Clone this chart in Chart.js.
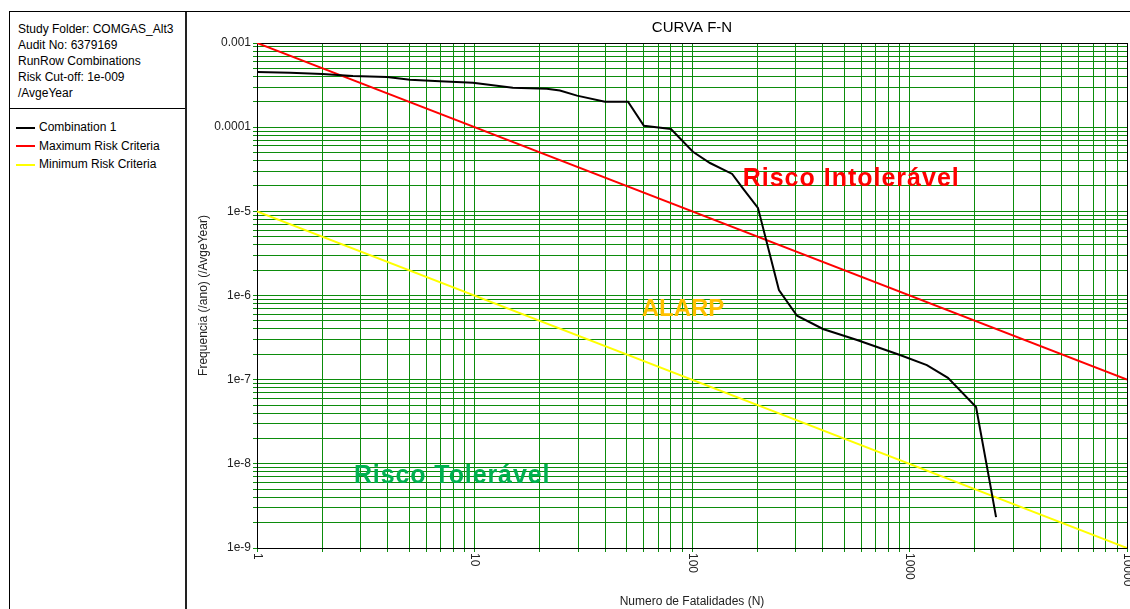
<!DOCTYPE html>
<html>
<head>
<meta charset="utf-8">
<title>CURVA F-N</title>
<script src="https://cdn.jsdelivr.net/npm/chart.js@4.4.1/dist/chart.umd.min.js"></script>
<style>
  html, body { margin: 0; padding: 0; background: #fff; }
  body {
    width: 1130px; height: 609px; position: relative; overflow: hidden;
    font-family: 'Liberation Sans', Arial, sans-serif; font-size: 12px; color: #000;
  }
  .frame-top { position: absolute; left: 9px; top: 11px; width: 1121px; border-top: 1px solid #000; }
  .side {
    position: absolute; left: 9px; top: 12px; width: 175px; height: 597px;
    border-left: 1px solid #000; border-right: 2px solid #222;
  }
  .info {
    height: 87px; padding: 9px 0 0 8px; line-height: 16px;
    border-bottom: 1px solid #000; white-space: nowrap;
  }
  .legend { padding-top: 9px; }
  .lg-row { height: 18.6px; line-height: 18.6px; white-space: nowrap; }
  .lg-line { display: inline-block; width: 19px; height: 2px; margin: 0 4px 0 6px; vertical-align: middle; }
  .plot { position: absolute; left: 190px; top: 12px; width: 940px; height: 597px; }
</style>
</head>
<body>

<div class="frame-top"></div>
<div class="side">
  <div class="info">
    Study Folder: COMGAS_Alt3<br>
    Audit No: 6379169<br>
    RunRow Combinations<br>
    Risk Cut-off: 1e-009<br>
    /AvgeYear
  </div>
  <div class="legend" id="legend"></div>
</div>
<div class="plot"><canvas id="fn"></canvas></div>

<script>
// ══════════════════════════════════════════════
//  CURVA F-N  (frequency vs. number of fatalities)
// ══════════════════════════════════════════════

// ── Data ───────────────────────────────────
var seriesNames = ['Combination 1', 'Maximum Risk Criteria', 'Minimum Risk Criteria'];

// Combination 1
var combN = [1, 1.42, 2.0, 2.76, 3.96, 5.05, 6.94, 9.84, 15.0, 21.5, 24.7, 29.6, 39.8, 50.8,
             60.1, 80.0, 101, 121, 153, 171, 201, 251, 304, 400, 574, 904, 1202, 1502, 2023, 2344, 2500];
var combF = [4.52e-4, 4.44e-4, 4.28e-4, 4.06e-4, 3.94e-4, 3.66e-4, 3.51e-4, 3.38e-4, 2.94e-4, 2.86e-4,
             2.73e-4, 2.37e-4, 2.01e-4, 2.01e-4, 1.04e-4, 9.5e-5, 5.1e-5, 3.75e-5, 2.78e-5, 1.89e-5,
             1.10e-5, 1.16e-6, 5.75e-7, 4.0e-7, 2.96e-7, 1.96e-7, 1.49e-7, 1.05e-7, 4.73e-8, 5.9e-9, 2.33e-9];

// criteria lines
var maxN = [1, 10000];
var maxF = [1e-3, 1e-7];
var minN = [1, 10000];
var minF = [1e-5, 1e-9];

// axis ticks
var xMajor = [1, 10, 100, 1000, 10000];
var xTickLabels = ['1', '10', '100', '1000', '10000'];
var yMajor = [1e-9, 1e-8, 1e-7, 1e-6, 1e-5, 1e-4, 1e-3];
var yTickLabels = ['1e-9', '1e-8', '1e-7', '1e-6', '1e-5', '0.0001', '0.001'];

// zone annotations (anchored in data units)
var zoneLabels = ['Risco Intolerável', 'ALARP', 'Risco Tolerável'];
var zoneN = [171, 58.7, 2.79];
var zoneF = [2.42e-5, 6.92e-7, 7.18e-9];

// ── Styles ─────────────────────────────────
var FONT = "'Liberation Sans', Arial, sans-serif";
var GRID = '#0c8c0c';
var seriesColors = ['#000000', '#ff0000', '#ffff00'];
var zoneColors = ['#ff0000', '#ffc000', '#00b050'];
var zoneSizes = [25, 24, 25];
var zoneSpacing = ['1px', '0px', '0.9px'];

// ── Helpers ────────────────────────────────
function toPoints(xs, ys) {
  return xs.map(function(x, i) { return { x: x, y: ys[i] }; });
}

// one grid line at each 1..9 x 10^k between the major values, labels on majors only
function logGrid(majors, labels) {
  var out = [];
  for (var i = 0; i < majors.length; i++) {
    out.push({ value: majors[i], major: true, lbl: labels[i] });
    if (i === majors.length - 1) break;
    for (var m = 2; m <= 9; m++) out.push({ value: majors[i] * m, major: false, lbl: '' });
  }
  return out;
}

function makeLine(label, pts, color) {
  return {
    label: label, data: pts, borderColor: color, backgroundColor: color,
    borderWidth: 2, pointRadius: 0, tension: 0, fill: false
  };
}

// ── Decorations: plot frame, rotated N labels, zone texts ──
var fnDecor = {
  id: 'fnDecor',
  beforeDatasetsDraw: function(chart) {
    var a = chart.chartArea, ctx = chart.ctx;
    var l = Math.floor(a.left) + 0.5, r = Math.floor(a.right) + 0.5;
    var t = Math.floor(a.top) + 0.5, b = Math.floor(a.bottom) + 0.5;
    ctx.save();
    ctx.strokeStyle = '#000';
    ctx.lineWidth = 1;
    ctx.strokeRect(l, t, r - l, b - t);
    ctx.restore();
  },
  afterDatasetsDraw: function(chart) {
    var ctx = chart.ctx, xs = chart.scales.x, ys = chart.scales.y;
    ctx.save();
    // N tick labels, reading top to bottom
    ctx.fillStyle = '#222';
    ctx.font = '12px ' + FONT;
    ctx.textAlign = 'left';
    ctx.textBaseline = 'middle';
    xMajor.forEach(function(v, i) {
      ctx.save();
      ctx.translate(xs.getPixelForValue(v), chart.chartArea.bottom + 5);
      ctx.rotate(Math.PI / 2);
      ctx.fillText(xTickLabels[i], 0, 0);
      ctx.restore();
    });
    // zone texts
    zoneLabels.forEach(function(txt, i) {
      ctx.font = 'bold ' + zoneSizes[i] + 'px ' + FONT;
      ctx.letterSpacing = zoneSpacing[i];
      ctx.fillStyle = zoneColors[i];
      ctx.fillText(txt, xs.getPixelForValue(zoneN[i]), ys.getPixelForValue(zoneF[i]));
    });
    ctx.restore();
  }
};

// ── Chart ──────────────────────────────────
var chart = new Chart(document.getElementById('fn'), {
  type: 'line',
  data: {
    datasets: [
      makeLine(seriesNames[0], toPoints(combN, combF), seriesColors[0]),
      makeLine(seriesNames[1], toPoints(maxN, maxF), seriesColors[1]),
      makeLine(seriesNames[2], toPoints(minN, minF), seriesColors[2])
    ]
  },
  plugins: [fnDecor],
  options: {
    responsive: true,
    maintainAspectRatio: false,
    animation: false,
    layout: { padding: { left: 0, right: 3, top: 0, bottom: 0 } },
    plugins: {
      legend: { display: false },
      tooltip: { enabled: false },
      title: {
        display: true, fullSize: false, text: 'CURVA F-N', color: '#000',
        font: { size: 15, family: FONT, weight: 'normal' },
        padding: { top: 7, bottom: 6 }
      }
    },
    scales: {
      x: {
        type: 'logarithmic', position: 'bottom', min: 1, max: 10000,
        afterBuildTicks: function(s) { s.ticks = logGrid(xMajor, xTickLabels); },
        afterFit: function(s) { s.height = 61; },
        grid: { color: GRID, lineWidth: 1, drawTicks: true, tickLength: 4 },
        border: { display: true, color: '#000', width: 1 },
        ticks: { display: false, autoSkip: false },
        title: {
          display: true, text: 'Numero de Fatalidades (N)', color: '#222',
          font: { size: 12, family: FONT }, padding: { top: 0, bottom: 0 }
        }
      },
      y: {
        type: 'logarithmic', position: 'left', min: 1e-9, max: 1e-3,
        afterBuildTicks: function(s) { s.ticks = logGrid(yMajor, yTickLabels); },
        afterFit: function(s) { s.width = 67; },
        grid: { color: GRID, lineWidth: 1, drawTicks: true, tickLength: 4 },
        border: { display: true, color: '#000', width: 1 },
        ticks: {
          autoSkip: false, padding: 2, color: '#222',
          font: { size: 12, family: FONT },
          callback: function(v, i, ticks) { return ticks[i].lbl || ''; }
        },
        title: {
          display: true, text: 'Frequencia (/ano) (/AvgeYear)', color: '#222',
          font: { size: 12, family: FONT }, padding: { top: 6, bottom: 0 }
        }
      }
    }
  }
});

// ── Legend (left panel) ────────────────────
(function() {
  var html = '';
  chart.data.datasets.forEach(function(ds) {
    html += '<div class="lg-row"><span class="lg-line" style="background:' + ds.borderColor + '"></span>' +
      ds.label + '</div>';
  });
  document.getElementById('legend').innerHTML = html;
})();
</script>
</body>
</html>
